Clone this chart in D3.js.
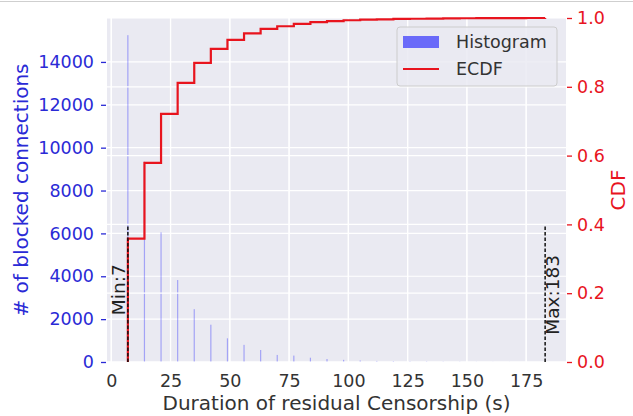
<!DOCTYPE html>
<html>
<head>
<meta charset="utf-8">
<script src="https://cdn.jsdelivr.net/npm/d3@7"></script>
<style>
  body { margin: 0; background: #ffffff; }
  svg { display: block; font-family: "DejaVu Sans", sans-serif; }
</style>
</head>
<body>
<svg id="chart" width="633" height="416"></svg>
<script>
var durations = [7, 14, 21, 28, 35, 42, 49, 56, 63, 70, 77, 84, 91, 98, 105, 112, 119, 126, 133, 140, 147, 154, 161, 168, 175, 183];
var counts = [15250, 9350, 6050, 3825, 2465, 1740, 1105, 800, 560, 330, 300, 200, 140, 100, 70, 50, 40, 30, 25, 20, 15, 10, 8, 6, 4, 2];
var xTicks = [0, 25, 50, 75, 100, 125, 150, 175];
var countTicks = [0, 2000, 4000, 6000, 8000, 10000, 12000, 14000];
var cdfTicks = [0, 0.2, 0.4, 0.6, 0.8, 1.0];
var minDuration = 7;
var maxDuration = 183;

var BLUE = "#2a2ad6";
var RED = "#e8141e";
var BG = "#eaeaf2";

var margin = { left: 107, right: 566, top: 18, bottom: 362 };
var svg = d3.select("#chart");

var x = d3.scaleLinear().domain([-1.8, 191.8]).range([margin.left, margin.right]);
var yCount = d3.scaleLinear().domain([0, 16050]).range([margin.bottom, margin.top]);
var yCdf = d3.scaleLinear().domain([0, 1]).range([margin.bottom, margin.top]);

var total = d3.sum(counts);
var running = 0;
var ecdf = [{ x: durations[0], y: 0 }];
durations.forEach(function (d, i) {
    running += counts[i];
    ecdf.push({ x: d, y: running / total });
});

// thin frame line at the top of the image
svg.append("line").attr("x1", 0).attr("x2", 633).attr("y1", 1.5).attr("y2", 1.5)
    .attr("stroke", "#cfcfcf").attr("stroke-width", 1);

svg.append("rect")
    .attr("x", margin.left).attr("y", margin.top)
    .attr("width", margin.right - margin.left).attr("height", margin.bottom - margin.top)
    .attr("fill", BG);

function gridX(g) {
    g.selectAll(".gx").data(xTicks).enter().append("line")
        .attr("x1", function (d) { return x(d); }).attr("x2", function (d) { return x(d); })
        .attr("y1", margin.top).attr("y2", margin.bottom)
        .attr("stroke", "#ffffff").attr("stroke-width", 1.2);
}

function gridY(g, ticks, scale) {
    g.selectAll(".gy").data(ticks).enter().append("line")
        .attr("x1", margin.left).attr("x2", margin.right)
        .attr("y1", function (d) { return scale(d); }).attr("y2", function (d) { return scale(d); })
        .attr("stroke", "#ffffff").attr("stroke-width", 1.2);
}

var grid1 = svg.append("g");
gridX(grid1);
gridY(grid1, countTicks, yCount);

svg.append("g").selectAll("rect").data(durations).enter().append("rect")
    .attr("x", function (d) { return x(d) - 0.6; })
    .attr("width", 1.2)
    .attr("y", function (d, i) { return yCount(counts[i]); })
    .attr("height", function (d, i) { return yCount(0) - yCount(counts[i]); })
    .attr("fill", "#0000ff").attr("fill-opacity", 0.3);

var grid2 = svg.append("g");
gridX(grid2);
gridY(grid2, cdfTicks, yCdf);

var line = d3.line()
    .x(function (d) { return x(d.x); })
    .y(function (d) { return yCdf(d.y); })
    .curve(d3.curveStepAfter);

svg.append("path").datum(ecdf)
    .attr("d", line)
    .attr("fill", "none").attr("stroke", RED).attr("stroke-width", 2.2);

// min / max markers
[minDuration, maxDuration].forEach(function (v) {
    svg.append("line")
        .attr("x1", x(v)).attr("x2", x(v))
        .attr("y1", yCdf(0)).attr("y2", yCdf(0.4))
        .attr("stroke", "#111").attr("stroke-width", 1.5)
        .attr("stroke-dasharray", "3.5,2");
});

svg.append("text")
    .attr("transform", "translate(" + (x(minDuration) - 2.5) + "," + yCdf(0.21) + ") rotate(-90)")
    .attr("text-anchor", "middle").attr("font-size", 18.5).attr("fill", "#222")
    .text("Min:" + minDuration);

svg.append("text")
    .attr("transform", "translate(" + (x(maxDuration) + 14) + "," + yCdf(0.195) + ") rotate(-90)")
    .attr("text-anchor", "middle").attr("font-size", 18.5).attr("fill", "#222")
    .text("Max:" + maxDuration);

// axes
var xAxis = svg.append("g").attr("transform", "translate(0," + margin.bottom + ")")
    .call(d3.axisBottom(x).tickValues(xTicks).tickSize(0).tickPadding(12.5));
xAxis.select(".domain").remove();
xAxis.selectAll("text").attr("font-size", 17.5).attr("fill", "#333").attr("font-family", "DejaVu Sans");

var leftAxis = svg.append("g").attr("transform", "translate(" + (margin.left - 1) + ",0)")
    .call(d3.axisLeft(yCount).tickValues(countTicks).tickSize(5).tickPadding(7).tickFormat(d3.format("d")));
leftAxis.select(".domain").remove();
leftAxis.selectAll("line").attr("stroke", BLUE).attr("stroke-width", 1.3);
leftAxis.selectAll("text").attr("font-size", 17.5).attr("fill", BLUE).attr("font-family", "DejaVu Sans");

var rightAxis = svg.append("g").attr("transform", "translate(" + (margin.right + 1) + ",0)")
    .call(d3.axisRight(yCdf).tickValues(cdfTicks).tickSize(5).tickPadding(5).tickFormat(d3.format(".1f")));
rightAxis.select(".domain").remove();
rightAxis.selectAll("line").attr("stroke", RED).attr("stroke-width", 1.3);
rightAxis.selectAll("text").attr("font-size", 17.5).attr("fill", RED).attr("font-family", "DejaVu Sans");

svg.append("text")
    .attr("x", (margin.left + margin.right) / 2).attr("y", 410)
    .attr("text-anchor", "middle").attr("font-size", 20).attr("fill", "#333")
    .text("Duration of residual Censorship (s)");

svg.append("text")
    .attr("transform", "translate(28," + (margin.top + margin.bottom) / 2 + ") rotate(-90)")
    .attr("text-anchor", "middle").attr("font-size", 20).attr("fill", BLUE)
    .text("# of blocked connections");

svg.append("text")
    .attr("transform", "translate(625," + (margin.top + margin.bottom) / 2 + ") rotate(-90)")
    .attr("text-anchor", "middle").attr("font-size", 20).attr("fill", RED)
    .text("CDF");

// legend
var legend = svg.append("g").attr("transform", "translate(397,27)");
legend.append("rect").attr("width", 160).attr("height", 59).attr("rx", 3)
    .attr("fill", BG).attr("fill-opacity", 0.85).attr("stroke", "#cccccc").attr("stroke-width", 1);
legend.append("rect").attr("x", 6).attr("y", 9).attr("width", 36).attr("height", 12)
    .attr("fill", "#0000ff").attr("fill-opacity", 0.55);
legend.append("line").attr("x1", 6).attr("x2", 42).attr("y1", 42).attr("y2", 42)
    .attr("stroke", RED).attr("stroke-width", 2.2);
legend.append("text").attr("x", 59).attr("y", 21).attr("font-size", 17.5).attr("fill", "#333").text("Histogram");
legend.append("text").attr("x", 59).attr("y", 48).attr("font-size", 17.5).attr("fill", "#333").text("ECDF");
</script>
</body>
</html>
